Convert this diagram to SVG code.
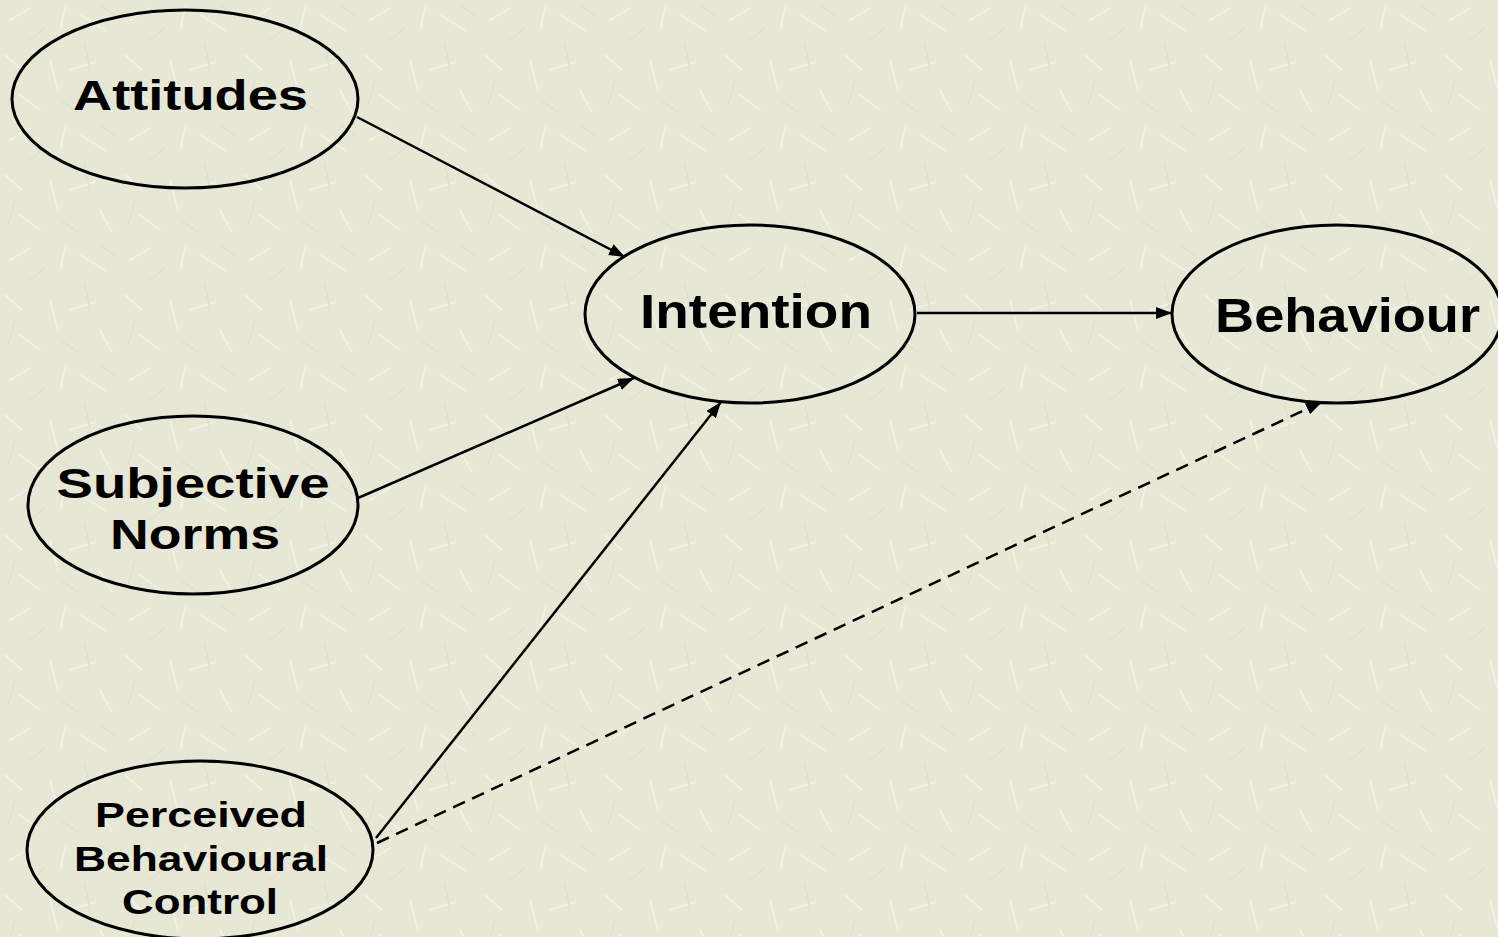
<svg xmlns="http://www.w3.org/2000/svg" width="1498" height="937" viewBox="0 0 1498 937">
<style>
.node ellipse{fill:none;stroke:#000;stroke-width:3}
.lbl{font-family:"Liberation Sans",Arial,sans-serif;font-weight:bold;fill:#000;text-anchor:middle}
.edge{stroke:#000;stroke-width:2.5;fill:none}
.dash{stroke-dasharray:13 8}
</style>
<defs>
<marker id="arr" markerUnits="userSpaceOnUse" markerWidth="18" markerHeight="14" refX="16" refY="6" orient="auto">
<path d="M0,0 L16,6 L0,12 Z" fill="#000"/>
</marker>
<pattern id="tex" patternUnits="userSpaceOnUse" width="120" height="120">
<rect width="120" height="120" fill="#E7E7D6"/>
<g stroke="#F0F0E4" stroke-width="2" stroke-linecap="round">
<path d="M10,20 L30,8 M50,60 L58,90 M80,15 L105,30 M20,95 L40,110 M70,70 L95,62 M100,90 L112,112 M5,55 L22,70 M60,30 L66,5"/>
</g>
<g stroke="#E0E0CE" stroke-width="1.5" stroke-linecap="round">
<path d="M30,40 L45,28 M85,45 L90,70 M15,80 L8,105 M60,100 L78,112 M100,5 L115,15"/>
</g>
</pattern>
</defs>
<rect width="1498" height="937" fill="url(#tex)"/>
<g id="connectors">
<line class="edge" x1="357" y1="117" x2="625" y2="257" marker-end="url(#arr)"/>
<line class="edge" x1="358" y1="498" x2="634" y2="378" marker-end="url(#arr)"/>
<line class="edge" x1="376" y1="838" x2="721" y2="402" marker-end="url(#arr)"/>
<line class="edge" x1="917" y1="313" x2="1172" y2="313" marker-end="url(#arr)"/>
<line class="edge dash" x1="377" y1="843" x2="1322" y2="402" marker-end="url(#arr)"/>
</g>
<g id="attitudes" class="node">
<ellipse cx="185" cy="99" rx="173" ry="89"/>
<text class="lbl" x="190.5" y="110" font-size="42" textLength="235" lengthAdjust="spacingAndGlyphs">Attitudes</text>
</g>
<g id="intention" class="node">
<ellipse cx="750" cy="314" rx="165" ry="89"/>
<text class="lbl" x="756" y="328" font-size="48" textLength="232" lengthAdjust="spacingAndGlyphs">Intention</text>
</g>
<g id="behaviour" class="node">
<ellipse cx="1337" cy="314" rx="165" ry="89"/>
<text class="lbl" x="1347.5" y="332" font-size="48" textLength="265" lengthAdjust="spacingAndGlyphs">Behaviour</text>
</g>
<g id="subjective-norms" class="node">
<ellipse cx="193" cy="505" rx="165" ry="89"/>
<text class="lbl" x="193" y="498" font-size="42" textLength="273" lengthAdjust="spacingAndGlyphs">Subjective</text>
<text class="lbl" x="195" y="549" font-size="42" textLength="170" lengthAdjust="spacingAndGlyphs">Norms</text>
</g>
<g id="pbc" class="node">
<ellipse cx="200" cy="850" rx="173" ry="89"/>
<text class="lbl" x="201" y="827" font-size="35" textLength="212" lengthAdjust="spacingAndGlyphs">Perceived</text>
<text class="lbl" x="201" y="871" font-size="35" textLength="254" lengthAdjust="spacingAndGlyphs">Behavioural</text>
<text class="lbl" x="200" y="914" font-size="35" textLength="156" lengthAdjust="spacingAndGlyphs">Control</text>
</g>
</svg>
